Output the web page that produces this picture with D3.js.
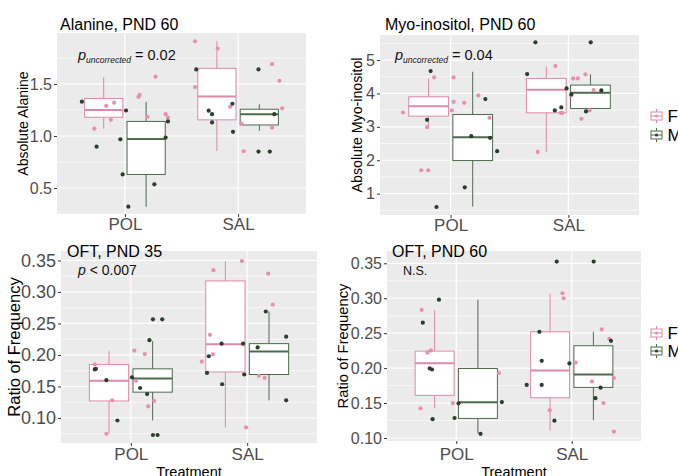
<!DOCTYPE html>
<html>
<head>
<meta charset="utf-8">
<title>Boxplots by treatment and sex</title>
<script src="https://d3js.org/d3.v7.min.js"></script>
<style>
    body{ margin:0; background:#fff; }
    svg{ display:block; font-family:"Liberation Sans", Arial, sans-serif; }
</style>
</head>
<body>
<svg id="chart" width="678" height="476"></svg>
<script>

//categories
var categories = ["POL", "SAL"];
var sexes = ["F", "M"];

//box stats per category: [lower whisker, q1, median, q3, upper whisker]
var alaBoxF = [[1.07, 1.18, 1.25, 1.36, 1.565], [0.855, 1.155, 1.38, 1.65, 1.91]];
var alaBoxM = [[0.32, 0.63, 0.97, 1.14, 1.33], [1.05, 1.106, 1.21, 1.257, 1.305]];
var myoBoxF = [[3.0, 3.32, 3.62, 3.90, 4.45], [2.25, 3.42, 4.11, 4.45, 4.81]];
var myoBoxM = [[0.61, 1.99, 2.685, 3.37, 4.65], [3.46, 3.55, 4.02, 4.25, 4.57]];
var oft35BoxF = [[0.075, 0.127, 0.159, 0.185, 0.206], [0.085, 0.173, 0.217, 0.3175, 0.349]];
var oft35BoxM = [[0.096, 0.141, 0.1625, 0.178, 0.222], [0.128, 0.169, 0.2055, 0.218, 0.269]];
var oft60BoxF = [[0.1424, 0.161, 0.207, 0.2243, 0.283], [0.1104, 0.1576, 0.1967, 0.252, 0.3067]];
var oft60BoxM = [[0.1067, 0.128, 0.151, 0.1995, 0.298], [0.1253, 0.1724, 0.191, 0.232, 0.252]];

//raw points: [category, jitter (category units), value]
var alaPtsF = [
    ["POL",0.27,1.57],["POL",0.12,1.375],["POL",0.13,1.395],["POL",-0.165,1.29],["POL",-0.095,1.32],
    ["POL",-0.124,1.155],["POL",-0.27,1.07],["POL",0.2,1.185],["POL",0.36,1.21],["POL",0.38,1.176],
    ["SAL",-0.38,1.91],["SAL",-0.18,1.84],["SAL",-0.38,1.47],["SAL",-0.07,1.28],["SAL",0.30,1.69],
    ["SAL",0.365,1.53],["SAL",0.39,1.266],["SAL",0.30,1.08],["SAL",0.05,0.853],["SAL",0.03,1.12]];
var alaPtsM = [
    ["POL",-0.38,1.33],["POL",0.01,1.245],["POL",-0.25,0.897],["POL",-0.04,0.968],["POL",-0.02,0.63],
    ["POL",0.03,0.32],["POL",0.26,0.535],["POL",0.36,0.985],["POL",0.38,1.14],
    ["SAL",-0.37,1.64],["SAL",0.18,1.64],["SAL",-0.26,1.243],["SAL",-0.23,1.21],["SAL",-0.23,1.13],
    ["SAL",-0.045,1.04],["SAL",-0.05,1.31],["SAL",0.32,1.21],["SAL",0.18,0.85],["SAL",0.28,0.85]];
var myoPtsF = [
    ["POL",-0.14,4.48],["POL",0.025,4.48],["POL",-0.405,3.43],["POL",0.025,3.75],["POL",0.115,3.72],
    ["POL",0.01,3.49],["POL",0.235,3.94],["POL",0.33,3.27],["POL",-0.2,2.99],["POL",-0.25,1.70],["POL",-0.19,1.70],
    ["SAL",-0.11,4.82],["SAL",0.04,4.45],["SAL",0.08,4.45],["SAL",0.145,4.57],["SAL",-0.26,2.25],
    ["SAL",-0.065,3.42],["SAL",-0.05,3.42],["SAL",0.215,4.10],["SAL",0.11,3.24],["SAL",0.025,3.95],["SAL",0.18,3.5]];
var myoPtsM = [
    ["POL",-0.17,4.67],["POL",0.295,3.83],["POL",-0.2,3.21],["POL",0.175,2.72],["POL",0.335,2.67],
    ["POL",0.395,2.27],["POL",0.12,1.19],["POL",-0.12,0.6],
    ["SAL",-0.28,5.53],["SAL",0.19,5.53],["SAL",-0.35,4.58],["SAL",-0.015,4.15],["SAL",-0.115,3.49],
    ["SAL",-0.06,3.58],["SAL",0.025,3.97],["SAL",0.28,4.09],["SAL",0.15,3.46]];
var oft35PtsF = [
    ["POL",-0.31,0.185],["POL",-0.16,0.128],["POL",-0.21,0.075],["POL",0.03,0.207],["POL",0.12,0.2015],
    ["POL",0.045,0.159],["POL",0.15,0.1185],["POL",0.2,0.127],
    ["SAL",-0.045,0.349],["SAL",-0.29,0.3345],["SAL",0.18,0.329],["SAL",0.22,0.280],["SAL",-0.32,0.232],
    ["SAL",-0.295,0.201],["SAL",-0.39,0.1895],["SAL",0.10,0.167],["SAL",0.15,0.1635],["SAL",-0.01,0.085]];
var oft35PtsM = [
    ["POL",-0.31,0.177],["POL",-0.30,0.178],["POL",-0.21,0.160],["POL",-0.115,0.096],["POL",0.01,0.1645],
    ["POL",0.08,0.1476],["POL",0.14,0.138],["POL",0.16,0.2235],["POL",0.19,0.2565],["POL",0.27,0.2565],
    ["POL",0.19,0.073],["POL",0.23,0.073],
    ["SAL",-0.22,0.218],["SAL",-0.035,0.218],["SAL",-0.33,0.198],["SAL",-0.345,0.1715],["SAL",-0.025,0.169],
    ["SAL",-0.215,0.1535],["SAL",0.16,0.269],["SAL",0.335,0.229],["SAL",0.09,0.212],["SAL",0.335,0.128]];
var oft60PtsF = [
    ["POL",-0.30,0.2833],["POL",-0.25,0.2224],["POL",-0.22,0.2253],["POL",-0.31,0.1424],["POL",-0.03,0.150],
    ["POL",0.37,0.193],
    ["SAL",-0.08,0.307],["SAL",-0.07,0.300],["SAL",-0.19,0.1396],["SAL",0.035,0.208],["SAL",0.26,0.2553],
    ["SAL",0.325,0.242],["SAL",0.175,0.181],["SAL",0.365,0.1857],["SAL",0.275,0.150],["SAL",0.365,0.109]];
var oft60PtsM = [
    ["POL",-0.15,0.298],["POL",-0.29,0.265],["POL",-0.23,0.1995],["POL",-0.21,0.198],["POL",-0.205,0.127],
    ["POL",-0.015,0.1286],["POL",0.02,0.1496],["POL",0.395,0.1514],["POL",0.21,0.106],
    ["SAL",-0.13,0.3524],["SAL",0.19,0.3524],["SAL",-0.28,0.252],["SAL",-0.26,0.2105],["SAL",-0.02,0.2067],
    ["SAL",-0.39,0.176],["SAL",-0.26,0.176],["SAL",-0.15,0.1248],["SAL",0.34,0.239],["SAL",0.25,0.172],["SAL",0.205,0.157]];

//tick values
var alaTicks = [0.5, 1.0, 1.5];
var myoTicks = [1, 2, 3, 4, 5];
var oftTicks = [0.10, 0.15, 0.20, 0.25, 0.30, 0.35];

//colours
var boxColor = {F: "#dc8aa7", M: "#4d6a4d"};
var dotColor = {F: "#e690ae", M: "#2a3f2a"};

var svg = d3.select("#chart");

var panels = [
    {title: "Alanine, PND 60", ytitle: "Absolute Alanine", x0: 57, x1: 306, y0: 33, y1: 214,
     domain: [0.25, 1.99], ticks: alaTicks, fmt: ".1f", boxF: alaBoxF, boxM: alaBoxM, ptsF: alaPtsF, ptsM: alaPtsM,
     tickSize: 16, ytSize: 14, ytX: 23, titleX: 60, titleY: 30, xlabY: 230, xlabSize: 17, xtitle: false},
    {title: "Myo-inositol, PND 60", ytitle: "Absolute Myo-inositol", x0: 380, x1: 639, y0: 35, y1: 215,
     domain: [0.36, 5.75], ticks: myoTicks, fmt: "d", boxF: myoBoxF, boxM: myoBoxM, ptsF: myoPtsF, ptsM: myoPtsM,
     tickSize: 16, ytSize: 14.2, ytX: 357, titleX: 385, titleY: 30, xlabY: 231, xlabSize: 17, xtitle: false},
    {title: "OFT, PND 35", ytitle: "Ratio of Frequency", x0: 61, x1: 317, y0: 251, y1: 443,
     domain: [0.0603, 0.365], ticks: oftTicks, fmt: ".2f", boxF: oft35BoxF, boxM: oft35BoxM, ptsF: oft35PtsF, ptsM: oft35PtsM,
     tickSize: 18, ytSize: 16.5, ytX: 14, titleX: 67, titleY: 257, xlabY: 460, xlabSize: 17, xtitle: true},
    {title: "OFT, PND 60", ytitle: "Ratio of Frequency", x0: 387, x1: 641, y0: 251, y1: 441,
     domain: [0.0957, 0.3676], ticks: oftTicks, fmt: ".2f", boxF: oft60BoxF, boxM: oft60BoxM, ptsF: oft60PtsF, ptsM: oft60PtsM,
     tickSize: 16, ytSize: 14.8, ytX: 343, titleX: 392, titleY: 257, xlabY: 460, xlabSize: 17, xtitle: true}
];

panels.forEach(drawPanel);

//annotations
AddPUncorrected(78, 60, "= 0.02");
AddPUncorrected(395, 60, "= 0.04");

var t3 = svg.append("text").attr("x", 78).attr("y", 275).attr("font-size", 14).attr("fill", "#111");
t3.append("tspan").attr("font-style", "italic").text("p");
t3.append("tspan").text(" < 0.007");

svg.append("text").attr("x", 403).attr("y", 275).attr("font-size", 12.5).attr("fill", "#111").text("N.S.");

//legends
drawLegend(656.5, 116, 135);
drawLegend(656.5, 333, 351);

function drawPanel(p){
    var g = svg.append("g");
    var x = d3.scaleLinear().domain([0.4, 2.6]).range([p.x0, p.x1]);
    var y = d3.scaleLinear().domain(p.domain).range([p.y1, p.y0]);
    var catPos = function(c){ return x(categories.indexOf(c) + 1); };

    //background
    g.append("rect").attr("x", p.x0).attr("y", p.y0)
        .attr("width", p.x1 - p.x0).attr("height", p.y1 - p.y0).attr("fill", "#ebebeb");

    //minor grid
    var step = p.ticks[1] - p.ticks[0];
    var minor = [p.ticks[0] - step / 2].concat(p.ticks.map(function(t){ return t + step / 2; }))
        .filter(function(v){ return v >= p.domain[0] && v <= p.domain[1]; });
    g.selectAll(".minor").data(minor).enter().append("line")
        .attr("x1", p.x0).attr("x2", p.x1)
        .attr("y1", function(d){ return y(d); }).attr("y2", function(d){ return y(d); })
        .attr("stroke", "#fff").attr("stroke-width", 0.6);

    //major grid
    g.selectAll(".major").data(p.ticks).enter().append("line")
        .attr("x1", p.x0).attr("x2", p.x1)
        .attr("y1", function(d){ return y(d); }).attr("y2", function(d){ return y(d); })
        .attr("stroke", "#fff").attr("stroke-width", 1.2);
    g.selectAll(".vgrid").data(categories).enter().append("line")
        .attr("x1", catPos).attr("x2", catPos)
        .attr("y1", p.y0).attr("y2", p.y1)
        .attr("stroke", "#fff").attr("stroke-width", 1.2);

    //y axis
    var yAxis = d3.axisLeft(y).tickValues(p.ticks).tickSize(3).tickPadding(2)
        .tickFormat(d3.format(p.fmt));
    var ya = g.append("g").attr("transform", "translate(" + p.x0 + ",0)").call(yAxis);
    ya.select(".domain").remove();
    ya.selectAll("line").attr("stroke", "#333");
    ya.selectAll("text").attr("fill", "#4d4d4d").attr("font-size", p.tickSize)
        .attr("font-family", "Liberation Sans, Arial, sans-serif");

    //x axis
    var xAxis = d3.axisBottom(x).tickValues([1, 2]).tickSize(3)
        .tickFormat(function(d){ return categories[d - 1]; });
    var xa = g.append("g").attr("transform", "translate(0," + p.y1 + ")").call(xAxis);
    xa.select(".domain").remove();
    xa.selectAll("line").attr("stroke", "#333");
    xa.selectAll("text").attr("fill", "#4d4d4d").attr("font-size", p.xlabSize)
        .attr("font-family", "Liberation Sans, Arial, sans-serif")
        .attr("dy", null).attr("y", p.xlabY - p.y1);

    //boxes
    var half = 0.3375 / 2;
    var dodge = {F: -0.1875, M: 0.1875};
    [["F", p.boxF], ["M", p.boxM]].forEach(function(pair){
        var s = pair[0];
        pair[1].forEach(function(b, i){
            var cx = x(i + 1 + dodge[s]);
            var bl = x(i + 1 + dodge[s] - half), br = x(i + 1 + dodge[s] + half);
            var bg = g.append("g").attr("stroke", boxColor[s]);
            bg.append("line").attr("x1", cx).attr("x2", cx).attr("y1", y(b[0])).attr("y2", y(b[1]));
            bg.append("line").attr("x1", cx).attr("x2", cx).attr("y1", y(b[3])).attr("y2", y(b[4]));
            bg.append("rect").attr("x", bl).attr("y", y(b[3]))
                .attr("width", br - bl).attr("height", y(b[1]) - y(b[3]))
                .attr("fill", "#fff").attr("stroke-width", 1);
            bg.append("line").attr("x1", bl).attr("x2", br).attr("y1", y(b[2])).attr("y2", y(b[2]))
                .attr("stroke-width", 2);
        });
    });

    //points
    [["F", p.ptsF], ["M", p.ptsM]].forEach(function(pair){
        var s = pair[0];
        g.selectAll(".pt" + s).data(pair[1]).enter().append("circle")
            .attr("cx", function(d){ return x(categories.indexOf(d[0]) + 1 + d[1]); })
            .attr("cy", function(d){ return y(d[2]); })
            .attr("r", 2.1)
            .attr("fill", dotColor[s]);
    });

    //titles
    g.append("text").attr("x", p.titleX).attr("y", p.titleY).attr("font-size", 16)
        .attr("fill", "#000").text(p.title);
    g.append("text")
        .attr("transform", "translate(" + p.ytX + "," + ((p.y0 + p.y1) / 2) + ") rotate(-90)")
        .attr("text-anchor", "middle").attr("dy", "0.35em")
        .attr("font-size", p.ytSize).attr("fill", "#000").text(p.ytitle);
    if(p.xtitle){
        g.append("text").attr("x", (p.x0 + p.x1) / 2).attr("y", 477)
            .attr("text-anchor", "middle").attr("font-size", 14.5).attr("fill", "#000").text("Treatment");
    }
}

function AddPUncorrected(px, py, rest){
    var t = svg.append("text").attr("x", px).attr("y", py).attr("font-size", 14.5).attr("fill", "#111");
    t.append("tspan").attr("font-style", "italic").text("p");
    t.append("tspan").attr("font-style", "italic").attr("font-size", 8.5).attr("dy", 3).text("uncorrected");
    t.append("tspan").attr("dy", -3).text(" " + rest);
}

function drawLegend(cx, yF, yM){
    [["F", yF], ["M", yM]].forEach(function(pair){
        var s = pair[0], cy = pair[1];
        var k = svg.append("g").attr("stroke", boxColor[s]).attr("fill", "none");
        k.append("line").attr("x1", cx).attr("x2", cx).attr("y1", cy - 7).attr("y2", cy - 4);
        k.append("line").attr("x1", cx).attr("x2", cx).attr("y1", cy + 4).attr("y2", cy + 7);
        k.append("rect").attr("x", cx - 5.5).attr("y", cy - 4).attr("width", 11).attr("height", 8).attr("fill", "#fff");
        k.append("line").attr("x1", cx - 5.5).attr("x2", cx + 5.5).attr("y1", cy).attr("y2", cy);
        k.append("circle").attr("cx", cx).attr("cy", cy).attr("r", 1.6).attr("fill", dotColor[s]).attr("stroke", "none");
        svg.append("text").attr("x", cx + 11).attr("y", cy).attr("dy", "0.36em")
            .attr("font-size", 17).attr("fill", "#000").text(s);
    });
}
</script>
</body>
</html>
